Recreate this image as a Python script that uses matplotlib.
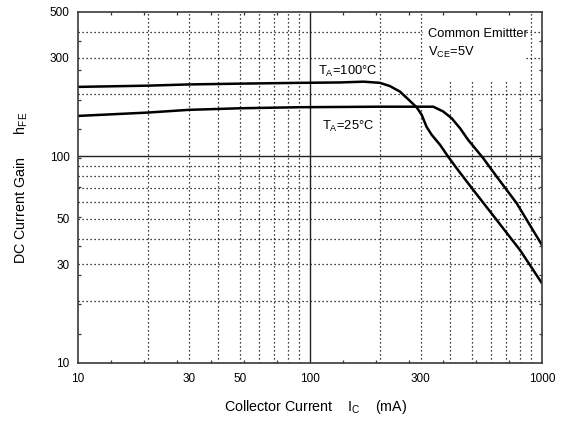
import numpy as np
import matplotlib
matplotlib.use("Agg")
import matplotlib.pyplot as plt
from matplotlib.patches import Rectangle
from matplotlib.ticker import FixedLocator, NullFormatter

plt.rcParams['font.family'] = ['Liberation Sans', 'DejaVu Sans']
plt.rcParams['mathtext.fontset'] = 'custom'
plt.rcParams['mathtext.rm'] = 'Liberation Sans'

# T_A = 100C curve (collector current mA, hFE)
ic_100 = [10, 20, 30, 50, 90, 135, 170, 200, 221, 244, 265, 288, 303, 318, 335,
          363, 394, 429, 506, 638, 804, 1000]
hfe_100 = [217, 220, 223, 225, 227, 228, 230, 227, 219, 206, 189, 173, 159, 139, 127,
           114, 99.7, 87.5, 68.7, 49.2, 35.2, 24.3]

# T_A = 25C curve
ic_25 = [10, 20, 30, 50, 90, 200, 340, 375, 408, 443, 481, 558, 638, 778, 1000]
hfe_25 = [157, 163, 168, 171, 173, 174, 174, 165, 153, 137, 120, 98, 79.8, 59.3, 37.2]

x_ticks = [10, 30, 50, 100, 300, 1000]
y_ticks = [10, 30, 50, 100, 300, 500]
x_grid = [20, 30, 40, 50, 60, 70, 80, 90, 200, 300, 400, 500, 600, 700, 800, 900]
y_grid = [20, 30, 40, 50, 60, 70, 80, 90, 200, 300, 400]

fig = plt.figure(figsize=(5.71, 4.21), dpi=100)
ax = fig.add_axes([0.1366, 0.1378, 0.8126, 0.8337])
ax.set_xscale('log')
ax.set_yscale('log')
ax.set_xlim(10, 1000)
ax.set_ylim(10, 500)

# dotted grid
for v in x_grid:
    ax.axvline(v, color='black', lw=0.9, ls=(0, (1, 2.2)), zorder=1)
for v in y_grid:
    ax.axhline(v, color='black', lw=0.9, ls=(0, (1, 2.2)), zorder=1)
ax.axvline(100, color='#222222', lw=1.0, zorder=1)
ax.axhline(100, color='#222222', lw=1.0, zorder=1)

# blank area behind the condition note
ax.add_patch(Rectangle((0.743, 0.806), 0.222, 0.194, transform=ax.transAxes,
                       facecolor='white', edgecolor='none', zorder=1.5))

ax.plot(ic_100, hfe_100, color='black', lw=1.8, zorder=3, solid_capstyle='butt')
ax.plot(ic_25, hfe_25, color='black', lw=1.8, zorder=3, solid_capstyle='butt')

ax.text(0.754, 0.937, 'Common Emittter', transform=ax.transAxes, fontsize=9.3,
        va='center', ha='left', zorder=4)
ax.text(0.754, 0.886, r'V$_{\mathregular{CE}}$=5V', transform=ax.transAxes, fontsize=9.3,
        va='center', ha='left', zorder=4)
ax.text(0.517, 0.832, r'T$_{\mathregular{A}}$=100°C', transform=ax.transAxes,
        fontsize=9.3, va='center', ha='left', zorder=4)
ax.text(0.526, 0.675, r'T$_{\mathregular{A}}$=25°C', transform=ax.transAxes,
        fontsize=9.3, va='center', ha='left', zorder=4)

# ticks
ax.xaxis.set_major_locator(FixedLocator(x_ticks))
ax.yaxis.set_major_locator(FixedLocator(y_ticks))
ax.set_xticklabels([str(t) for t in x_ticks])
ax.set_yticklabels([str(t) for t in y_ticks])
ax.xaxis.set_minor_locator(FixedLocator(10 ** np.linspace(1, 3, 15)))
ax.yaxis.set_minor_locator(FixedLocator(10 ** np.linspace(1, np.log10(500), 13)))
ax.xaxis.set_minor_formatter(NullFormatter())
ax.yaxis.set_minor_formatter(NullFormatter())
ax.tick_params(which='major', length=0, labelsize=8.5, colors='black')
ax.tick_params(axis='x', which='major', pad=7)
ax.tick_params(axis='y', which='major', pad=6)
ax.tick_params(which='minor', direction='in', length=2.2, width=0.9,
               top=True, right=True, color='#333333')

for s in ax.spines.values():
    s.set_color('#3a3a3a')
    s.set_linewidth(1.2)
    s.set_zorder(5)

fig.text(0.038, 0.555, r'DC Current Gain      h$_{\mathregular{FE}}$', rotation=90,
         fontsize=10.3, ha='center', va='center')
fig.text(0.552, 0.033, r'Collector Current    I$_{\mathregular{C}}$    (mA)',
         fontsize=10.3, ha='center', va='center')

fig.savefig('out.png', dpi=100)
